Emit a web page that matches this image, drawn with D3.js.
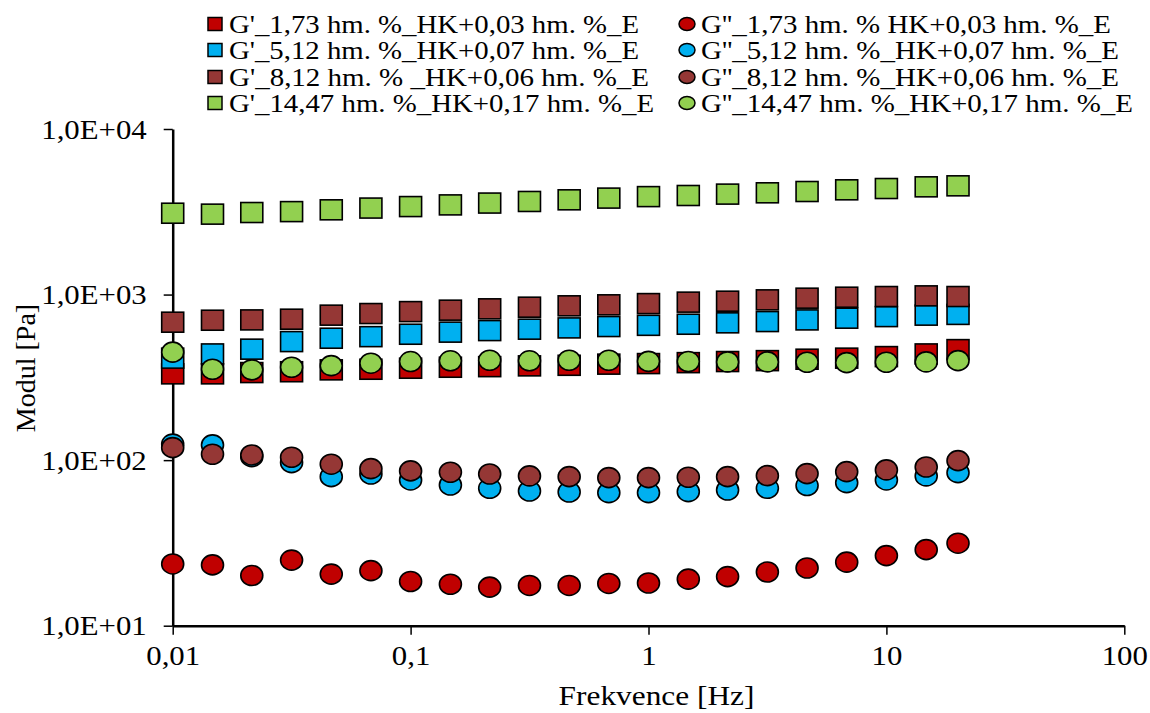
<!DOCTYPE html>
<html><head><meta charset="utf-8">
<script src="https://cdn.jsdelivr.net/npm/d3@7"></script>
<style>
body{margin:0;background:#fff;}
</style></head>
<body><svg id="chart" width="1150" height="713"></svg>
<script>
const freq = [0.01, 0.0147, 0.0215, 0.0316, 0.0464, 0.0681, 0.1, 0.147, 0.215, 0.316, 0.464, 0.681, 1, 1.47, 2.15, 3.16, 4.64, 6.81, 10, 14.7, 20];

const gP_173 = [332, 332, 338, 342, 351, 354, 359, 364, 367, 371, 374, 380, 383, 388, 394, 399, 407, 413, 422, 438, 465];
const gPP_173 = [23.6, 23.3, 20.1, 24.9, 20.5, 21.5, 18.5, 17.8, 17.1, 17.5, 17.5, 18.0, 18.1, 19.1, 19.8, 21.1, 22.3, 24.2, 26.5, 28.8, 31.5];
const gP_512 = [413, 438, 468, 520, 545, 557, 576, 593, 606, 618, 629, 641, 652, 662, 675, 687, 703, 720, 736, 751, 759];
const gPP_512 = [125, 123.6, 105, 96.6, 79.5, 82.5, 75.9, 70.8, 67.6, 65.1, 64.2, 63.6, 63.6, 64.5, 66.0, 67.6, 70.2, 73.1, 75.9, 80.3, 84.0];
const gP_812 = [681, 700, 703, 710, 751, 768, 789, 805, 820, 839, 855, 867, 882, 900, 912, 929, 951, 964, 973, 982, 973];
const gPP_812 = [119, 108.5, 107.5, 104.1, 94.5, 88.8, 86.1, 84.5, 82.5, 80.3, 79.5, 78.4, 78.4, 78.8, 79.5, 80.6, 82.9, 85.2, 87.3, 90.9, 99.3];
const gP_1447 = [3100, 3060, 3130, 3170, 3250, 3330, 3400, 3480, 3570, 3650, 3735, 3825, 3905, 3966, 4043, 4117, 4192, 4292, 4370, 4474, 4537];
const gPP_1447 = [449, 354, 351, 364, 372, 385, 394, 398, 401, 398, 401, 401, 395, 394, 392, 392, 390, 388, 390, 392, 399];

const seriesNames = [
  "G'_1,73 hm. %_HK+0,03 hm. %_E",
  "G''_1,73 hm. % HK+0,03 hm. %_E",
  "G'_5,12 hm. %_HK+0,07 hm. %_E",
  "G''_5,12 hm. %_HK+0,07 hm. %_E",
  "G'_8,12 hm. % _HK+0,06 hm. %_E",
  "G''_8,12 hm. %_HK+0,06 hm. %_E",
  "G'_14,47 hm. %_HK+0,17 hm. %_E",
  "G''_14,47 hm. %_HK+0,17 hm. %_E"
];
const seriesValues = [gP_173, gPP_173, gP_512, gPP_512, gP_812, gPP_812, gP_1447, gPP_1447];
const seriesShapes = ["square","circle","square","circle","square","circle","square","circle"];
const seriesColors = ["#C00000","#C00000","#00B0F0","#00B0F0","#953735","#953735","#92D050","#92D050"];

const xTicks = [0.01, 0.1, 1, 10, 100];
const xTickLabels = ["0,01", "0,1", "1", "10", "100"];
const yTicks = [10, 100, 1000, 10000];
const yTickLabels = ["1,0E+01", "1,0E+02", "1,0E+03", "1,0E+04"];

const FONT = "Liberation Serif";
const SX = 1.1; // horizontal stretch of the original's text
const svg = d3.select("#chart");
const x = d3.scaleLog().domain([0.01, 100]).range([172.7, 1124.3]);
const y = d3.scaleLog().domain([10, 10000]).range([625.7, 129]);

const xAxis = d3.axisBottom(x).tickValues(xTicks).tickFormat((d,i)=>xTickLabels[i]).tickSizeInner(9).tickSizeOuter(0).tickPadding(10);
const yAxis = d3.axisLeft(y).tickValues(yTicks).tickFormat((d,i)=>yTickLabels[i]).tickSizeInner(9).tickSizeOuter(0).tickPadding(17);

const gx = svg.append("g").attr("transform","translate(0,625.7)").call(xAxis);
const gy = svg.append("g").attr("transform","translate(172.7,0)").call(yAxis);
[gx, gy].forEach(g=>{
  g.attr("font-family", null).attr("font-size", null);
  g.select(".domain").attr("stroke","#000").attr("stroke-width",2.5);
  g.selectAll(".tick line").attr("stroke","#000").attr("stroke-width",1.5);
  g.selectAll(".tick text").style("font-family", FONT).style("font-size", "28px").attr("fill","#000");
});
gx.selectAll(".tick text").each(function(){
  const t = d3.select(this); const ty = +t.attr("y");
  t.attr("y", 0).attr("dy","0.72em").attr("transform", `translate(0,${ty}) scale(${SX},1)`);
});
gy.selectAll(".tick text").each(function(){
  const t = d3.select(this); const tx = +t.attr("x");
  t.attr("x", 0).attr("dy","0.33em").attr("transform", `translate(${tx},0) scale(${SX},1)`);
});

svg.append("text").attr("transform","translate(656.5,705) scale(1.12,1)").attr("text-anchor","middle")
  .style("font-family", FONT).style("font-size","28px").text("Frekvence [Hz]");
svg.append("text").attr("transform","translate(35,368) rotate(-90)").attr("text-anchor","middle")
  .style("font-family", FONT).style("font-size","28px").text("Modul [Pa]");

const plot = svg.append("g");
seriesValues.forEach((vals, si)=>{
  const g = plot.append("g");
  const data = vals.map((v,i)=>({f:freq[i], v}));
  if (seriesShapes[si]==="square") {
    g.selectAll("rect").data(data).join("rect")
      .attr("x", d=>x(d.f)-11).attr("y", d=>y(d.v)-10)
      .attr("width",22).attr("height",20)
      .attr("fill", seriesColors[si]).attr("stroke","#000").attr("stroke-width",1.6);
  } else {
    g.selectAll("ellipse").data(data).join("ellipse")
      .attr("cx", d=>x(d.f)).attr("cy", d=>y(d.v))
      .attr("rx",11).attr("ry",10)
      .attr("fill", seriesColors[si]).attr("stroke","#000").attr("stroke-width",1.6);
  }
});

const legend = svg.append("g");
const colX = [215, 687];
const rowY = [24, 50, 77, 103];
const legendWidths = [410, 410, 410, 418, 420, 418, 425, 432];
seriesNames.forEach((name, si)=>{
  const col = si % 2, row = Math.floor(si/2);
  const cx = colX[col], cy = rowY[row];
  if (seriesShapes[si]==="square") {
    legend.append("rect").attr("x",cx-7).attr("y",cy-6.5).attr("width",14).attr("height",13)
      .attr("fill",seriesColors[si]).attr("stroke","#000").attr("stroke-width",1.5);
  } else {
    legend.append("ellipse").attr("cx",cx).attr("cy",cy).attr("rx",8).attr("ry",6.5)
      .attr("fill",seriesColors[si]).attr("stroke","#000").attr("stroke-width",1.5);
  }
  legend.append("text").attr("x",cx+14).attr("y",cy).attr("dy","0.35em")
    .style("font-family", FONT).style("font-size","25px")
    .attr("textLength", legendWidths[si]).attr("lengthAdjust","spacingAndGlyphs")
    .text(name);
});
</script></body></html>
